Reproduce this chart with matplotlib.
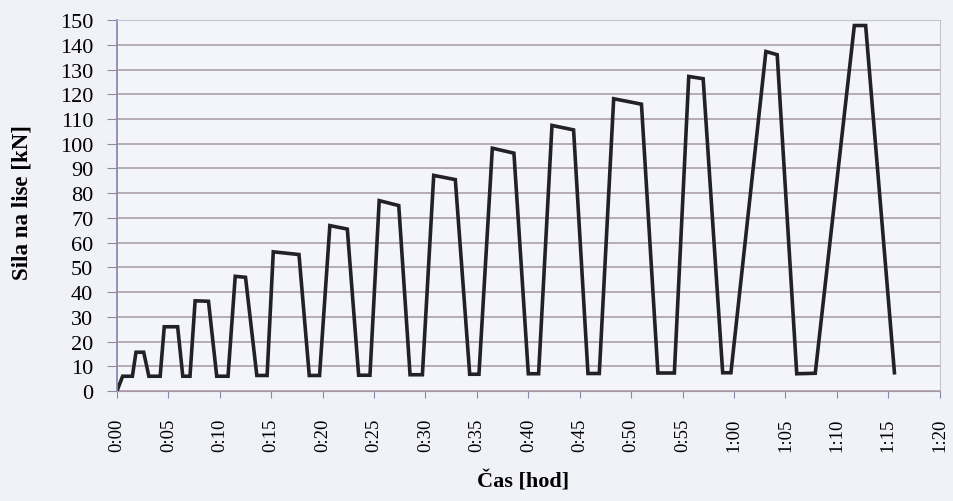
import matplotlib
matplotlib.use("Agg")
import matplotlib.pyplot as plt

# cas v minutach, sila v kN
cas_min = [0, 0.55, 1.5, 1.85, 2.6, 3.1, 4.2, 4.6, 5.9, 6.4, 7.1, 7.6, 8.9, 9.7,
           10.8, 11.5, 12.5, 13.6, 14.6, 15.2, 17.7, 18.7, 19.7, 20.7, 22.4, 23.5,
           24.6, 25.5, 27.4, 28.5, 29.7, 30.8, 32.9, 34.3, 35.2, 36.5, 38.6, 40.0,
           41.0, 42.3, 44.4, 45.8, 46.9, 48.3, 51.0, 52.6, 54.2, 55.6, 57.0, 58.9,
           59.7, 63.1, 64.2, 66.1, 67.9, 71.7, 72.8, 75.6]
sila_kN = [0, 6, 6, 15.7, 15.7, 6, 6, 26, 26, 6, 6, 36.5, 36.3, 6,
           6, 46.4, 46, 6.3, 6.3, 56.3, 55.2, 6.3, 6.3, 66.9, 65.5, 6.4,
           6.4, 77, 75, 6.6, 6.6, 87.2, 85.5, 6.8, 6.8, 98.2, 96.2, 7,
           7, 107.4, 105.6, 7.1, 7.1, 118.2, 116, 7.3, 7.3, 127.2, 126.3, 7.4,
           7.4, 137.3, 136, 7, 7.2, 147.8, 147.8, 7.4]

x_ticks = list(range(0, 81, 5))
x_labels = [f"{m // 60}:{m % 60:02d}" for m in x_ticks]
y_ticks = list(range(0, 151, 10))

plt.rcParams['font.family'] = ['Liberation Serif', 'DejaVu Serif']

fig = plt.figure(figsize=(9.54, 5.02), dpi=100)
fig.patch.set_facecolor('#f1f2f8')
ax = fig.add_axes([0.1226, 0.219, 0.8624, 0.739])
ax.set_facecolor('#f4f5fa')

ax.plot(cas_min, sila_kN, color='#222226', lw=2.6, solid_joinstyle='miter')

ax.set_xlim(0, 80)
ax.set_ylim(0, 150)
ax.set_xticks(x_ticks)
ax.set_xticklabels(x_labels, rotation=90, fontsize=13.5)
ax.set_yticks(y_ticks)
ax.tick_params(axis='y', labelsize=16, length=7, color='#8a8aa8', pad=10)
ax.tick_params(axis='x', length=5, color='#8a8aa8', pad=14)

ax.grid(axis='y', color='#a896a6', lw=1.1)
ax.set_axisbelow(True)

for s in ['top', 'right']:
    ax.spines[s].set_color('#c4c4d0')
ax.spines['left'].set_color('#8a8ab0')
ax.spines['left'].set_linewidth(1.3)
ax.spines['bottom'].set_color('#a896a6')

ax.set_ylabel('Sila na lise [kN]', fontsize=16.5, fontweight='bold')
ax.yaxis.set_label_coords(-0.103, 0.51)
ax.set_xlabel('Čas [hod]', fontsize=16, fontweight='bold', va='top')
ax.xaxis.set_label_coords(0.494, -0.213)

fig.savefig('out.png', dpi=100, facecolor=fig.get_facecolor())
